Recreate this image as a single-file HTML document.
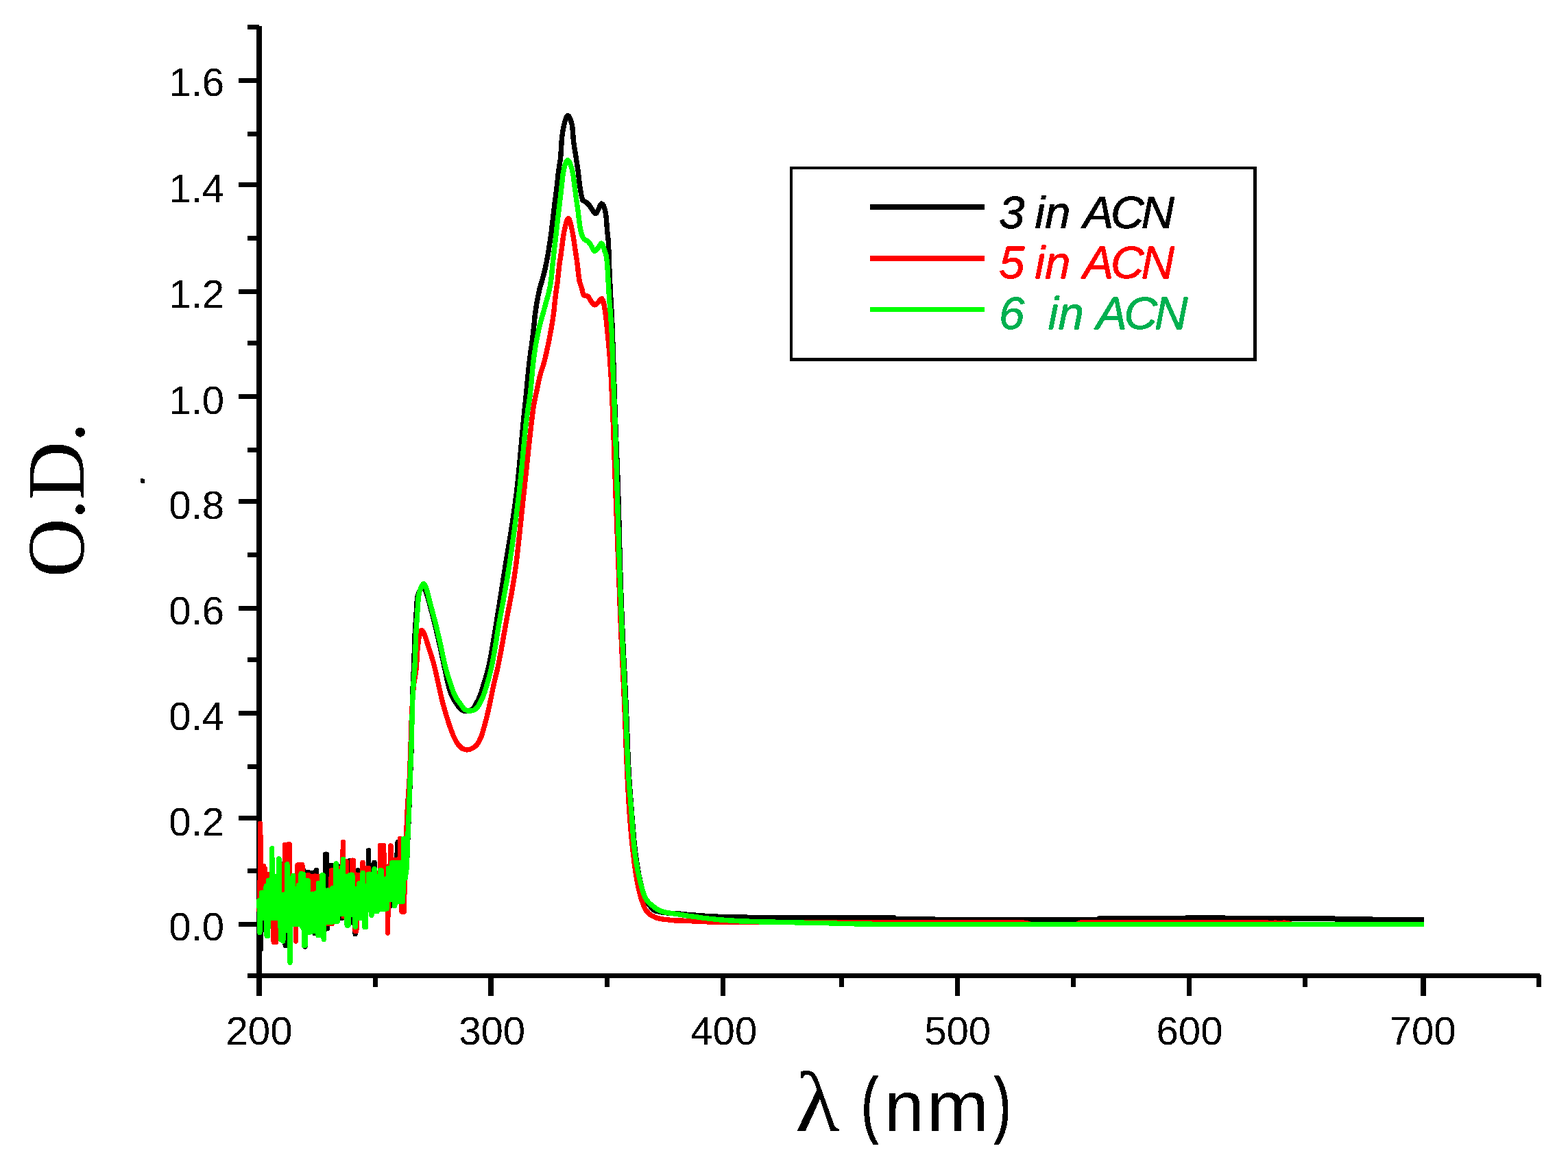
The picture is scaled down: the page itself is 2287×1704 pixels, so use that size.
<!DOCTYPE html>
<html lang="en"><head><meta charset="utf-8"><title>UV-Vis absorption spectra</title>
<style>
html,body{margin:0;padding:0;background:#fff;}
body{width:2287px;height:1704px;overflow:hidden;}
svg{display:block;}
text{white-space:pre;}
.tick{font-family:"Liberation Sans",Arial,Helvetica,sans-serif;font-size:58.2px;fill:#000;}
.leg{font-family:"Liberation Sans",Arial,Helvetica,sans-serif;font-style:italic;font-size:67.2px;}
.xt{font-family:"Liberation Sans",Arial,Helvetica,sans-serif;font-size:107.5px;fill:#000;}
.xn{font-family:"Liberation Sans",Arial,Helvetica,sans-serif;font-size:104.5px;fill:#000;}
.xp{font-family:"Liberation Sans",Arial,Helvetica,sans-serif;font-size:105.5px;fill:#000;stroke:#000;stroke-width:2.2px;stroke-linejoin:round;}
.lam{font-family:"Liberation Serif","DejaVu Serif",serif;font-size:124px;fill:#000;}
.yt{font-family:"Liberation Serif","Times New Roman",serif;font-size:119.5px;fill:#000;}
.curve{fill:none;stroke-width:7.4;stroke-linejoin:round;stroke-linecap:round;}
</style></head><body>
<svg width="2287" height="1704" viewBox="0 0 2287 1704">
<rect x="0" y="0" width="2287" height="1704" fill="#fff"/>
<defs><filter id="bin" filterUnits="userSpaceOnUse" x="0" y="0" width="2287" height="1704" color-interpolation-filters="sRGB"><feComponentTransfer><feFuncA type="discrete" tableValues="0 1"/></feComponentTransfer></filter></defs>
<g id="axes" fill="#000" shape-rendering="crispEdges">
<rect x="374" y="38" width="8" height="1389"/>
<rect x="361" y="36" width="17" height="7"/>
<rect x="361" y="1420" width="1885" height="7"/>
<rect x="2241" y="1422" width="7" height="18"/>
<rect x="348" y="113.5" width="27" height="7"/>
<rect x="348" y="266.0" width="27" height="7"/>
<rect x="348" y="422.0" width="27" height="7"/>
<rect x="348" y="575.0" width="27" height="7"/>
<rect x="348" y="727.5" width="27" height="7"/>
<rect x="348" y="883.5" width="27" height="7"/>
<rect x="348" y="1036.5" width="27" height="7"/>
<rect x="348" y="1190.0" width="27" height="7"/>
<rect x="348" y="1345.0" width="27" height="7"/>
<rect x="361" y="191.5" width="14" height="7"/>
<rect x="361" y="344.0" width="14" height="7"/>
<rect x="361" y="497.0" width="14" height="7"/>
<rect x="361" y="653.0" width="14" height="7"/>
<rect x="361" y="805.5" width="14" height="7"/>
<rect x="361" y="958.5" width="14" height="7"/>
<rect x="361" y="1114.5" width="14" height="7"/>
<rect x="361" y="1267.0" width="14" height="7"/>
<rect x="374.0" y="1420" width="8" height="33"/>
<rect x="712.0" y="1420" width="8" height="33"/>
<rect x="1051.0" y="1420" width="7" height="33"/>
<rect x="1393.0" y="1420" width="7" height="33"/>
<rect x="1731.0" y="1420" width="7" height="33"/>
<rect x="2072.0" y="1420" width="8" height="33"/>
<rect x="543.5" y="1420" width="7" height="20"/>
<rect x="882.0" y="1420" width="7" height="20"/>
<rect x="1224.0" y="1420" width="7" height="20"/>
<rect x="1562.0" y="1420" width="7" height="20"/>
<rect x="1900.0" y="1420" width="7" height="20"/>
</g>
<g id="ylabels" class="tick" text-anchor="end" filter="url(#bin)">
<text x="327.2" y="140.1">1.6</text>
<text x="327.2" y="294.6">1.4</text>
<text x="327.2" y="448.6">1.2</text>
<text x="327.2" y="603.6">1.0</text>
<text x="327.2" y="756.6">0.8</text>
<text x="327.2" y="910.6">0.6</text>
<text x="327.2" y="1064.6">0.4</text>
<text x="327.2" y="1218.6">0.2</text>
<text x="327.2" y="1371.6">0.0</text>
</g>
<g id="xlabels" class="tick" text-anchor="middle" filter="url(#bin)">
<text x="378" y="1523.7">200</text>
<text x="717.7" y="1523.7">300</text>
<text x="1055.8" y="1523.7">400</text>
<text x="1396.7" y="1523.7">500</text>
<text x="1735.0" y="1523.7">600</text>
<text x="2075.2" y="1523.7">700</text>
</g>
<clipPath id="plotclip"><rect x="0" y="0" width="2077" height="1704"/></clipPath>
<g id="curves" clip-path="url(#plotclip)">
<polyline class="curve" filter="url(#bin)" stroke="#000" points="378.0,1323.5 378.8,1350.4 379.7,1323.5 380.5,1384.1 381.4,1312.3 382.2,1329.5 383.1,1312.3 383.9,1329.5 384.8,1312.3 385.6,1329.5 386.5,1312.3 387.3,1329.5 388.2,1302.6 389.0,1355.3 389.9,1302.6 390.7,1355.3 391.6,1294.2 392.4,1329.5 393.3,1294.2 394.1,1329.5 395.0,1294.2 395.8,1329.5 396.7,1247.6 397.5,1329.5 398.4,1288.7 399.2,1329.5 400.1,1288.7 400.9,1329.5 401.8,1288.7 402.6,1329.5 403.5,1288.7 404.3,1329.5 405.2,1288.7 406.0,1329.5 406.9,1262.9 407.7,1329.5 408.6,1262.9 409.4,1360.1 410.3,1260.6 411.1,1360.1 412.0,1260.6 412.8,1360.1 413.7,1315.1 414.5,1362.9 415.4,1315.1 416.2,1379.2 417.1,1315.1 417.9,1379.2 418.8,1270.6 419.6,1379.2 420.4,1298.4 421.3,1379.2 422.1,1298.4 423.0,1379.2 423.8,1298.4 424.7,1337.9 425.5,1298.4 426.4,1337.9 427.2,1287.3 428.1,1337.9 428.9,1306.8 429.8,1337.9 430.6,1306.8 431.5,1337.9 432.3,1306.8 433.2,1337.9 434.0,1306.8 434.9,1337.9 435.7,1306.8 436.6,1337.9 437.4,1306.8 438.3,1337.9 439.1,1301.2 440.0,1341.3 440.8,1301.2 441.7,1341.3 442.5,1268.9 443.4,1369.1 444.2,1285.1 445.1,1380.9 445.9,1285.1 446.8,1349.7 447.6,1285.1 448.5,1349.7 449.3,1272.1 450.2,1349.7 451.0,1273.9 451.9,1349.7 452.7,1273.9 453.6,1349.7 454.4,1273.9 455.3,1349.7 456.1,1273.9 457.0,1349.7 457.8,1273.9 458.7,1361.5 459.5,1273.9 460.4,1354.5 461.2,1269.1 462.1,1354.5 462.9,1298.4 463.7,1354.5 464.6,1298.4 465.4,1354.5 466.3,1298.4 467.1,1354.5 468.0,1298.4 468.8,1354.5 469.7,1286.9 470.5,1354.5 471.4,1286.9 472.2,1360.6 473.1,1286.9 473.9,1354.8 474.8,1246.1 475.6,1354.8 476.5,1246.1 477.3,1354.8 478.2,1309.3 479.0,1346.1 479.9,1309.3 480.7,1346.1 481.6,1309.3 482.4,1346.1 483.3,1262.4 484.1,1346.1 485.0,1270.0 485.8,1334.0 486.7,1270.0 487.5,1334.0 488.4,1270.0 489.2,1334.0 490.1,1270.0 490.9,1334.0 491.8,1270.0 492.6,1334.0 493.5,1264.2 494.3,1334.0 495.2,1264.2 496.0,1334.0 496.9,1281.5 497.7,1339.1 498.6,1281.5 499.4,1339.1 500.3,1263.3 501.1,1323.1 502.0,1288.7 502.8,1323.1 503.7,1288.7 504.5,1323.1 505.4,1288.7 506.2,1340.0 507.0,1288.7 507.9,1340.0 508.7,1288.7 509.6,1340.0 510.4,1255.7 511.3,1324.3 512.1,1255.7 513.0,1345.8 513.8,1286.3 514.7,1324.3 515.5,1306.9 516.4,1324.3 517.2,1306.9 518.1,1362.7 518.9,1306.9 519.8,1329.1 520.6,1306.9 521.5,1329.1 522.3,1269.7 523.2,1329.1 524.0,1283.3 524.9,1329.1 525.7,1283.3 526.6,1329.1 527.4,1283.3 528.3,1329.1 529.1,1283.3 530.0,1329.1 530.8,1303.3 531.7,1342.4 532.5,1303.3 533.4,1342.4 534.2,1303.3 535.1,1317.0 535.9,1303.3 536.8,1317.0 537.6,1240.6 538.5,1317.0 539.3,1286.3 540.2,1317.0 541.0,1286.3 541.9,1325.5 542.7,1286.3 543.6,1319.4 544.4,1286.3 545.3,1319.4 546.1,1258.2 547.0,1319.4 547.8,1288.7 548.6,1319.4 549.5,1288.7 550.3,1319.4 551.2,1288.7 552.0,1319.4 552.9,1288.7 553.7,1315.8 554.6,1279.7 555.4,1322.8 556.3,1279.7 557.1,1315.8 558.0,1292.4 558.8,1315.8 559.7,1292.4 560.5,1315.8 561.4,1292.4 562.2,1315.8 563.1,1292.4 563.9,1315.8 564.8,1292.4 565.6,1302.5 566.5,1292.4 567.3,1302.5 568.2,1292.4 569.0,1302.5 569.9,1276.6 570.7,1321.0 571.6,1268.8 572.4,1302.5 573.3,1268.8 574.1,1311.6 575.0,1268.8 575.8,1311.6 576.7,1268.8 577.5,1304.9 578.4,1246.1 579.2,1304.9 580.1,1228.5 580.9,1304.9 581.8,1268.8 582.6,1304.9 583.5,1268.8 584.3,1304.9 585.2,1268.8 586.0,1304.9 586.9,1268.8 587.7,1304.9 588.6,1233.7 589.4,1258.9 590.2,1281.3 591.1,1281.3 593.2,1266.5 595.0,1220.0 596.7,1180.8 598.4,1134.1 600.1,1090.9 601.8,1009.3 603.5,973.8 605.2,924.4 606.9,897.2 608.6,871.5 610.3,865.7 612.0,862.0 613.7,858.3 615.4,855.6 617.1,855.2 618.8,857.9 620.5,861.9 622.2,866.4 623.9,872.0 625.6,877.7 627.3,883.8 629.0,890.2 630.7,896.9 632.4,903.6 634.1,910.4 635.8,917.3 637.5,924.4 639.2,931.7 640.9,939.1 642.6,946.8 644.3,954.8 646.0,962.9 647.7,970.9 649.4,979.0 651.1,987.3 652.8,995.1 654.5,1001.6 656.2,1007.2 657.9,1012.1 659.6,1016.2 661.3,1019.5 663.0,1022.3 664.7,1024.8 666.4,1027.3 668.1,1029.8 669.8,1032.3 671.5,1034.2 673.2,1035.4 674.9,1036.4 676.6,1037.1 678.3,1037.5 680.0,1037.5 681.7,1037.3 683.4,1037.0 685.1,1036.6 686.8,1035.9 688.5,1034.8 690.2,1033.3 691.9,1031.3 693.6,1028.2 695.3,1025.1 697.0,1021.9 698.7,1018.3 700.4,1014.1 702.1,1009.1 703.8,1003.6 705.5,998.0 707.2,992.6 708.9,987.0 710.6,981.0 712.3,974.4 714.0,966.8 715.7,958.1 717.4,948.5 719.1,938.4 720.8,927.9 722.5,917.3 724.2,906.9 725.9,896.5 727.6,886.0 729.3,875.2 731.0,864.3 732.7,853.4 734.4,842.4 736.1,831.5 737.8,820.9 739.5,810.5 741.2,800.3 742.9,790.0 744.6,779.6 746.3,769.0 748.0,757.9 749.7,746.2 751.4,733.9 753.1,720.7 754.8,706.2 756.5,689.6 758.2,671.5 759.9,652.7 761.6,633.8 763.3,615.6 765.0,598.6 766.7,582.0 768.4,565.1 770.1,547.2 771.8,530.3 773.5,516.5 775.2,504.7 776.9,492.4 778.6,476.8 780.3,459.7 782.0,447.9 783.7,437.9 785.4,428.9 787.1,421.2 788.8,415.1 790.5,409.8 792.2,403.6 793.9,397.0 795.6,389.8 797.3,381.5 799.0,372.2 800.7,362.0 802.4,350.9 804.1,338.8 805.8,324.6 807.5,309.7 809.2,295.7 810.9,283.1 812.6,269.3 814.3,252.0 816.0,240.7 817.7,229.7 819.4,201.8 821.1,189.4 822.8,181.8 824.5,175.2 826.2,170.2 827.9,168.5 829.6,169.6 831.3,172.6 833.0,177.3 834.7,183.8 836.4,204.9 838.1,217.2 839.8,227.5 841.5,238.3 843.2,250.1 844.9,265.5 846.6,277.5 848.3,286.5 850.0,292.4 851.7,293.6 853.4,294.2 855.1,295.2 856.8,296.7 858.5,298.5 860.2,300.5 861.9,303.2 863.6,305.8 865.3,308.1 867.0,310.2 868.7,311.5 870.4,310.5 872.1,306.9 873.8,303.5 875.5,299.5 877.2,297.0 878.9,297.8 880.6,300.9 882.3,305.5 884.0,315.6 885.7,336.8 887.4,352.5 889.1,400.4 890.8,433.6 892.5,462.3 894.2,510.0 895.9,563.2 897.6,614.1 899.3,655.8 901.0,697.5 902.7,754.3 904.4,822.8 906.1,874.0 907.8,916.5 909.5,953.9 911.2,986.6 912.9,1023.4 914.6,1064.4 916.3,1110.8 918.0,1140.3 919.7,1163.1 921.4,1184.5 923.1,1206.3 924.8,1226.1 926.5,1241.7 928.2,1254.4 929.9,1265.5 931.6,1275.1 933.3,1283.1 935.0,1290.3 936.7,1296.9 938.4,1302.7 940.1,1307.7 941.8,1311.5 943.5,1314.6 945.2,1317.4 946.9,1320.0 948.6,1322.4 950.3,1324.5 952.0,1326.2 953.7,1327.6 955.4,1328.6 957.1,1329.2 958.8,1329.6 960.5,1330.0 962.2,1330.4 963.9,1330.7 965.6,1331.0 967.3,1331.2 969.0,1331.4 970.7,1331.6 972.4,1331.7 974.1,1331.9 975.8,1332.0 977.5,1332.1 979.2,1332.3 980.9,1332.4 982.6,1332.5 984.3,1332.6 986.0,1332.8 987.7,1332.9 989.4,1333.0 991.1,1333.2 992.8,1333.3 994.5,1333.5 996.2,1333.6 997.9,1333.8 999.6,1333.9 1001.3,1334.1 1003.0,1334.3 1004.7,1334.4 1006.4,1334.6 1008.1,1334.7 1009.8,1334.9 1011.5,1335.0 1013.2,1335.2 1014.9,1335.3 1016.6,1335.4 1018.3,1335.6 1020.0,1335.7 1021.7,1335.8 1023.4,1336.0 1025.1,1336.1 1026.8,1336.2 1028.5,1336.3 1030.2,1336.4 1031.9,1336.5 1033.6,1336.6 1035.3,1336.7 1037.0,1336.8 1038.7,1336.9 1040.4,1337.0 1042.1,1337.1 1043.8,1337.2 1045.5,1337.2 1047.2,1337.3 1048.9,1337.4 1050.6,1337.5 1052.3,1337.6 1054.0,1337.7 1055.7,1337.7 1057.4,1337.8 1059.1,1337.9 1060.8,1337.9 1062.5,1338.0 1064.2,1338.0 1065.9,1338.1 1067.6,1338.1 1069.3,1338.2 1071.0,1338.2 1072.7,1338.2 1074.4,1338.2 1076.1,1338.2 1077.8,1338.2 1079.5,1338.3 1081.2,1338.3 1082.9,1338.3 1084.6,1338.3 1086.3,1338.3 1088.0,1338.3 1089.7,1338.3 1091.4,1338.4 1093.1,1338.4 1094.8,1338.4 1096.5,1338.4 1098.2,1338.4 1099.9,1338.4 1101.6,1338.4 1103.3,1338.4 1105.0,1338.4 1106.7,1338.5 1108.4,1338.5 1159.6,1338.6 1304.0,1338.5 1306.0,1340.5 1362.0,1340.5 1364.0,1341.7 1600.0,1341.7 1604.0,1339.7 1729.0,1339.7 1731.0,1338.8 1785.0,1338.8 1787.0,1339.7 1945.0,1339.7 1947.0,1340.7 2000.0,1340.7 2002.0,1341.6 2085.0,1341.6"/>
<polyline class="curve" filter="url(#bin)" stroke="#f00" points="378.0,1323.5 378.8,1350.4 379.7,1201.4 380.5,1329.5 381.4,1263.3 382.2,1329.5 383.1,1267.5 383.9,1329.5 384.8,1263.3 385.6,1329.5 386.5,1267.5 387.3,1329.5 388.2,1275.9 389.0,1355.3 389.9,1275.9 390.7,1355.3 391.6,1275.9 392.4,1329.5 393.3,1275.9 394.1,1329.5 395.0,1275.9 395.8,1329.5 396.7,1247.6 397.5,1329.5 398.4,1288.7 399.2,1374.3 400.1,1288.7 400.9,1374.3 401.8,1288.7 402.6,1374.3 403.5,1288.7 404.3,1360.1 405.2,1288.7 406.0,1360.1 406.9,1262.9 407.7,1360.1 408.6,1315.1 409.4,1360.1 410.3,1315.1 411.1,1360.1 412.0,1315.1 412.8,1360.1 413.7,1315.1 414.5,1347.6 415.4,1232.7 416.2,1347.6 417.1,1232.7 417.9,1347.6 418.8,1232.7 419.6,1347.6 420.4,1232.0 421.3,1347.6 422.1,1232.0 423.0,1394.3 423.8,1287.3 424.7,1337.9 425.5,1287.3 426.4,1337.9 427.2,1287.3 428.1,1337.9 428.9,1287.3 429.8,1337.9 430.6,1287.3 431.5,1372.9 432.3,1287.3 433.2,1341.3 434.0,1261.9 434.9,1341.3 435.7,1261.9 436.6,1341.3 437.4,1261.9 438.3,1341.3 439.1,1261.9 440.0,1341.3 440.8,1261.8 441.7,1341.3 442.5,1285.1 443.4,1369.1 444.2,1285.1 445.1,1369.1 445.9,1285.1 446.8,1349.7 447.6,1285.1 448.5,1349.7 449.3,1276.3 450.2,1349.7 451.0,1278.1 451.9,1349.7 452.7,1278.1 453.6,1349.7 454.4,1278.1 455.3,1348.5 456.1,1278.1 457.0,1348.5 457.8,1278.1 458.7,1348.5 459.5,1278.1 460.4,1348.5 461.2,1278.1 462.1,1348.5 462.9,1278.1 463.7,1354.5 464.6,1286.9 465.4,1354.5 466.3,1286.9 467.1,1354.5 468.0,1286.9 468.8,1354.5 469.7,1286.9 470.5,1354.5 471.4,1286.9 472.2,1360.6 473.1,1309.3 473.9,1347.6 474.8,1309.3 475.6,1347.6 476.5,1309.3 477.3,1347.6 478.2,1309.3 479.0,1347.6 479.9,1309.3 480.7,1347.6 481.6,1309.3 482.4,1347.6 483.3,1270.0 484.1,1347.6 485.0,1270.0 485.8,1334.0 486.7,1270.0 487.5,1334.0 488.4,1270.0 489.2,1334.0 490.1,1270.0 490.9,1334.0 491.8,1270.0 492.6,1334.0 493.5,1266.6 494.3,1323.1 495.2,1266.6 496.0,1323.1 496.9,1266.6 497.7,1323.1 498.6,1266.6 499.4,1323.1 500.3,1228.5 501.1,1336.7 502.0,1257.0 502.8,1336.7 503.7,1257.0 504.5,1336.7 505.4,1257.0 506.2,1340.0 507.0,1286.3 507.9,1340.0 508.7,1286.3 509.6,1324.3 510.4,1286.3 511.3,1324.3 512.1,1286.3 513.0,1324.3 513.8,1255.1 514.7,1324.3 515.5,1255.1 516.4,1324.3 517.2,1276.3 518.1,1358.5 518.9,1276.3 519.8,1358.5 520.6,1276.3 521.5,1329.1 522.3,1276.3 523.2,1329.1 524.0,1276.3 524.9,1329.1 525.7,1276.3 526.6,1329.1 527.4,1276.3 528.3,1329.1 529.1,1258.2 530.0,1329.1 530.8,1266.6 531.7,1342.4 532.5,1266.6 533.4,1342.4 534.2,1266.6 535.1,1317.0 535.9,1266.6 536.8,1317.0 537.6,1266.6 538.5,1317.0 539.3,1286.3 540.2,1317.0 541.0,1286.3 541.9,1325.5 542.7,1286.3 543.6,1319.4 544.4,1286.3 545.3,1319.4 546.1,1277.8 547.0,1319.4 547.8,1288.7 548.6,1319.4 549.5,1288.7 550.3,1319.4 551.2,1288.7 552.0,1315.8 552.9,1288.7 553.7,1315.8 554.6,1233.4 555.4,1315.8 556.3,1233.4 557.1,1315.8 558.0,1233.4 558.8,1315.8 559.7,1233.4 560.5,1315.8 561.4,1264.2 562.2,1315.8 563.1,1264.2 563.9,1315.8 564.8,1264.2 565.6,1360.9 566.5,1264.2 567.3,1302.5 568.2,1264.2 569.0,1302.5 569.9,1234.0 570.7,1302.5 571.6,1254.5 572.4,1302.5 573.3,1254.5 574.1,1302.5 575.0,1254.5 575.8,1311.6 576.7,1254.5 577.5,1304.9 578.4,1254.5 579.2,1304.9 580.1,1254.5 580.9,1304.9 581.8,1254.5 582.6,1304.9 583.5,1223.1 584.3,1304.9 585.2,1233.7 586.0,1330.0 586.9,1233.7 587.7,1330.0 588.6,1233.7 589.4,1330.0 590.2,1281.3 591.1,1281.3 592.0,1240.0 593.7,1189.4 595.4,1162.3 597.1,1138.8 598.8,1094.8 600.5,1041.6 602.2,1013.5 603.9,995.8 605.6,985.7 607.3,974.4 609.0,945.9 610.7,932.4 612.4,924.4 614.1,920.0 615.8,919.8 617.5,922.4 619.2,925.9 620.9,930.5 622.6,936.2 624.3,941.7 626.0,946.9 627.7,952.1 629.4,957.5 631.1,963.1 632.8,969.1 634.5,975.7 636.2,983.3 637.9,991.2 639.6,998.7 641.3,1006.4 643.0,1014.0 644.7,1021.3 646.4,1028.0 648.1,1034.1 649.8,1040.0 651.5,1045.6 653.2,1050.9 654.9,1056.0 656.6,1061.0 658.3,1065.8 660.0,1070.3 661.7,1074.4 663.4,1077.9 665.1,1081.2 666.8,1084.1 668.5,1086.5 670.2,1088.4 671.9,1090.2 673.6,1091.6 675.3,1092.5 677.0,1093.1 678.7,1093.6 680.4,1093.9 682.1,1093.8 683.8,1093.5 685.5,1093.0 687.2,1092.4 688.9,1091.6 690.6,1090.6 692.3,1089.3 694.0,1087.9 695.7,1086.1 697.4,1083.7 699.1,1080.7 700.8,1077.2 702.5,1073.0 704.2,1067.6 705.9,1061.6 707.6,1055.2 709.3,1048.7 711.0,1041.7 712.7,1034.4 714.4,1026.7 716.1,1018.6 717.8,1010.1 719.5,1001.8 721.2,994.2 722.9,987.2 724.6,980.1 726.3,972.5 728.0,964.1 729.7,955.3 731.4,946.0 733.1,936.5 734.8,926.9 736.5,917.3 738.2,907.8 739.9,898.6 741.6,889.7 743.3,880.8 745.0,871.9 746.7,862.6 748.4,852.7 750.1,842.0 751.8,830.3 753.5,817.1 755.2,802.6 756.9,787.2 758.6,771.2 760.3,754.9 762.0,738.6 763.7,722.6 765.4,707.1 767.1,691.2 768.8,675.0 770.5,659.0 772.2,643.1 773.9,627.8 775.6,613.3 777.3,599.5 779.0,588.4 780.7,579.9 782.4,572.1 784.1,563.9 785.8,555.8 787.5,548.6 789.2,542.6 790.9,537.3 792.6,531.9 794.3,525.6 796.0,518.7 797.7,511.2 799.4,503.2 801.1,494.7 802.8,485.8 804.5,476.4 806.2,466.1 807.9,454.1 809.6,437.4 811.3,423.5 813.0,412.7 814.7,396.9 816.4,382.0 818.1,371.4 819.8,358.8 821.5,344.7 823.2,336.1 824.9,328.3 826.6,322.3 828.3,318.9 830.0,319.2 831.7,323.7 833.4,331.0 835.1,339.5 836.8,348.9 838.5,361.2 840.2,372.4 841.9,383.5 843.6,399.0 845.3,411.0 847.0,415.9 848.7,421.0 850.4,429.1 852.1,431.1 853.8,431.5 855.5,431.8 857.2,432.2 858.9,433.7 860.6,437.0 862.3,439.8 864.0,442.1 865.7,444.0 867.4,444.9 869.1,444.3 870.8,442.7 872.5,441.0 874.2,439.0 875.9,436.8 877.6,435.6 879.3,438.0 881.0,444.4 882.7,454.2 884.4,468.8 886.1,485.7 887.8,502.8 889.5,523.1 891.2,550.3 892.9,585.1 894.6,624.8 896.3,673.1 898.0,721.6 899.7,766.2 901.4,809.9 903.1,854.0 904.8,899.3 906.5,940.4 908.2,974.1 909.9,1008.7 911.6,1048.2 913.3,1093.2 915.0,1133.3 916.7,1165.8 918.4,1191.1 920.1,1211.9 921.8,1229.6 923.5,1245.2 925.2,1259.4 926.9,1271.8 928.6,1282.3 930.3,1291.2 932.0,1299.1 933.7,1305.9 935.4,1311.6 937.1,1316.7 938.8,1321.2 940.5,1325.0 942.2,1327.9 943.9,1330.1 945.6,1331.9 947.3,1333.4 949.0,1334.7 950.7,1335.7 952.4,1336.6 954.1,1337.5 955.8,1338.3 957.5,1338.9 959.2,1339.5 960.9,1339.9 962.6,1340.2 964.3,1340.5 966.0,1340.8 967.7,1341.1 969.4,1341.3 971.1,1341.5 972.8,1341.7 974.5,1341.9 976.2,1342.1 977.9,1342.3 979.6,1342.4 981.3,1342.5 983.0,1342.7 984.7,1342.8 986.4,1342.9 988.1,1343.0 989.8,1343.0 991.5,1343.1 993.2,1343.2 994.9,1343.3 996.6,1343.3 998.3,1343.4 1000.0,1343.4 1001.7,1343.5 1003.4,1343.5 1005.1,1343.6 1006.8,1343.6 1008.5,1343.7 1010.2,1343.8 1011.9,1343.8 1013.6,1343.9 1015.3,1343.9 1017.0,1344.0 1018.7,1344.1 1020.4,1344.2 1022.1,1344.3 1023.8,1344.3 1025.5,1344.4 1027.2,1344.5 1028.9,1344.6 1030.6,1344.7 1032.3,1344.7 1034.0,1344.8 1035.7,1344.9 1037.4,1344.9 1039.1,1345.0 1040.8,1345.0 1042.5,1345.0 1044.2,1345.0 1045.9,1345.0 1047.6,1345.0 1049.3,1345.0 1051.0,1345.0 1052.7,1345.0 1054.4,1345.0 1056.1,1345.0 1057.8,1345.0 1059.5,1345.0 1061.2,1345.0 1062.9,1345.0 1064.6,1345.0 1066.3,1345.0 1068.0,1345.0 1069.7,1345.0 1071.4,1345.0 1073.1,1344.9 1074.8,1344.9 1076.5,1344.9 1078.2,1344.9 1079.9,1344.9 1081.6,1344.9 1083.3,1344.9 1085.0,1344.9 1086.7,1344.9 1088.4,1344.9 1090.1,1344.9 1091.8,1344.9 1093.5,1344.9 1095.2,1344.8 1096.9,1344.8 1098.6,1344.8 1100.3,1344.8 1102.0,1344.8 1103.7,1344.8 1105.4,1344.8 1107.1,1344.8 1108.8,1344.8 1110.0,1344.8 1130.5,1345.3 1159.6,1345.9 1170.0,1346.0 1200.0,1345.7 1264.0,1345.8 1492.0,1345.8 1498.0,1346.6 1503.0,1348.5 1570.0,1348.5 1576.0,1345.8 1848.0,1345.8 1853.0,1346.8 1860.0,1345.8 1867.0,1346.8 1873.0,1345.8 1879.0,1346.8 1884.0,1348.5 2085.0,1348.5"/>
<polyline class="curve" filter="url(#bin)" stroke="#0f0" points="378.0,1313.5 378.8,1360.4 379.7,1313.5 380.5,1339.5 381.4,1302.3 382.2,1339.5 383.1,1302.3 383.9,1339.5 384.8,1302.3 385.6,1339.5 386.5,1302.3 387.3,1339.5 388.2,1292.6 389.0,1365.3 389.9,1292.6 390.7,1365.3 391.6,1284.2 392.4,1339.5 393.3,1284.2 394.1,1339.5 395.0,1284.2 395.8,1339.5 396.7,1237.6 397.5,1339.5 398.4,1278.7 399.2,1339.5 400.1,1278.7 400.9,1339.5 401.8,1278.7 402.6,1339.5 403.5,1278.7 404.3,1339.5 405.2,1278.7 406.0,1339.5 406.9,1252.9 407.7,1339.5 408.6,1305.1 409.4,1370.1 410.3,1305.1 411.1,1370.1 412.0,1305.1 412.8,1372.9 413.7,1305.1 414.5,1357.6 415.4,1305.1 416.2,1357.6 417.1,1305.1 417.9,1357.6 418.8,1260.6 419.6,1357.6 420.4,1288.4 421.3,1357.6 422.1,1288.4 423.0,1404.3 423.8,1288.4 424.7,1347.9 425.5,1288.4 426.4,1347.9 427.2,1277.3 428.1,1347.9 428.9,1296.8 429.8,1347.9 430.6,1296.8 431.5,1347.9 432.3,1296.8 433.2,1347.9 434.0,1296.8 434.9,1347.9 435.7,1291.2 436.6,1347.9 437.4,1291.2 438.3,1347.9 439.1,1274.5 440.0,1351.3 440.8,1291.2 441.7,1351.3 442.5,1275.1 443.4,1379.1 444.2,1284.8 445.1,1379.1 445.9,1284.8 446.8,1359.7 447.6,1284.8 448.5,1359.7 449.3,1284.8 450.2,1359.7 451.0,1304.2 451.9,1359.7 452.7,1304.2 453.6,1359.7 454.4,1304.2 455.3,1358.5 456.1,1304.2 457.0,1358.5 457.8,1304.2 458.7,1358.5 459.5,1304.2 460.4,1358.5 461.2,1302.9 462.1,1358.5 462.9,1302.9 463.7,1364.5 464.6,1288.4 465.4,1364.5 466.3,1288.4 467.1,1364.5 468.0,1288.4 468.8,1364.5 469.7,1276.9 470.5,1364.5 471.4,1276.9 472.2,1370.6 473.1,1299.3 473.9,1345.2 474.8,1299.3 475.6,1345.2 476.5,1299.3 477.3,1345.2 478.2,1299.3 479.0,1345.2 479.9,1299.3 480.7,1345.2 481.6,1299.3 482.4,1345.2 483.3,1299.3 484.1,1345.2 485.0,1295.7 485.8,1344.0 486.7,1295.7 487.5,1344.0 488.4,1295.7 489.2,1344.0 490.1,1260.0 490.9,1344.0 491.8,1271.5 492.6,1344.0 493.5,1271.5 494.3,1333.1 495.2,1271.5 496.0,1333.1 496.9,1271.5 497.7,1333.1 498.6,1271.5 499.4,1333.1 500.3,1253.3 501.1,1333.1 502.0,1278.7 502.8,1333.1 503.7,1278.7 504.5,1333.1 505.4,1278.7 506.2,1350.0 507.0,1278.7 507.9,1350.0 508.7,1278.7 509.6,1334.3 510.4,1276.3 511.3,1334.3 512.1,1276.3 513.0,1334.3 513.8,1276.3 514.7,1334.3 515.5,1296.9 516.4,1334.3 517.2,1296.9 518.1,1352.4 518.9,1296.9 519.8,1339.1 520.6,1296.9 521.5,1339.1 522.3,1296.9 523.2,1339.1 524.0,1288.4 524.9,1339.1 525.7,1296.9 526.6,1339.1 527.4,1288.4 528.3,1339.1 529.1,1273.3 530.0,1339.1 530.8,1293.3 531.7,1352.4 532.5,1293.3 533.4,1352.4 534.2,1293.3 535.1,1327.0 535.9,1293.3 536.8,1327.0 537.6,1275.1 538.5,1327.0 539.3,1275.1 540.2,1327.0 541.0,1276.3 541.9,1335.5 542.7,1276.3 543.6,1329.4 544.4,1276.3 545.3,1329.4 546.1,1267.8 547.0,1329.4 547.8,1278.7 548.6,1329.4 549.5,1278.7 550.3,1329.4 551.2,1278.7 552.0,1325.8 552.9,1278.7 553.7,1325.8 554.6,1269.7 555.4,1325.8 556.3,1269.7 557.1,1325.8 558.0,1282.4 558.8,1325.8 559.7,1282.4 560.5,1325.8 561.4,1282.4 562.2,1325.8 563.1,1282.4 563.9,1325.8 564.8,1282.4 565.6,1312.5 566.5,1266.6 567.3,1312.5 568.2,1266.6 569.0,1312.5 569.9,1266.6 570.7,1312.5 571.6,1258.8 572.4,1312.5 573.3,1258.8 574.1,1312.5 575.0,1258.8 575.8,1321.6 576.7,1258.8 577.5,1314.9 578.4,1258.8 579.2,1314.9 580.1,1258.8 580.9,1314.9 581.8,1258.8 582.6,1314.9 583.5,1258.8 584.3,1314.9 585.2,1258.8 586.0,1314.9 586.9,1258.8 587.7,1314.9 588.6,1223.7 589.4,1268.9 590.2,1281.3 591.1,1281.3 593.2,1266.5 594.9,1220.0 596.6,1179.7 598.3,1132.7 600.0,1087.6 601.7,1023.4 603.4,990.2 605.1,970.1 606.8,923.9 608.5,897.2 610.2,871.6 611.9,863.3 613.6,858.5 615.3,854.5 617.0,852.0 618.7,852.0 620.4,855.0 622.1,859.3 623.8,865.2 625.5,872.5 627.2,879.1 628.9,885.4 630.6,891.7 632.3,898.1 634.0,904.6 635.7,911.4 637.4,918.4 639.1,925.5 640.8,932.8 642.5,940.2 644.2,948.1 645.9,956.4 647.6,964.4 649.3,971.7 651.0,978.1 652.7,983.9 654.4,989.4 656.1,994.6 657.8,999.7 659.5,1004.8 661.2,1009.5 662.9,1013.6 664.6,1017.0 666.3,1019.8 668.0,1022.2 669.7,1024.4 671.4,1026.7 673.1,1029.1 674.8,1031.8 676.5,1033.9 678.2,1035.2 679.9,1036.1 681.6,1036.8 683.3,1037.2 685.0,1037.2 686.7,1037.0 688.4,1036.7 690.1,1036.3 691.8,1035.7 693.5,1034.6 695.2,1033.1 696.9,1031.1 698.6,1028.1 700.3,1025.0 702.0,1021.8 703.7,1018.2 705.4,1014.0 707.1,1009.0 708.8,1003.5 710.5,997.8 712.2,991.8 713.9,985.5 715.6,978.6 717.3,971.1 719.0,962.6 720.7,953.1 722.4,943.0 724.1,932.5 725.8,922.0 727.5,911.8 729.2,902.1 730.9,892.8 732.6,883.6 734.3,874.5 736.0,865.2 737.7,855.7 739.4,845.8 741.1,835.4 742.8,824.5 744.5,813.3 746.2,801.7 747.9,789.9 749.6,777.6 751.3,765.0 753.0,751.9 754.7,738.5 756.4,724.6 758.1,710.1 759.8,693.8 761.5,676.3 763.2,658.3 764.9,640.6 766.6,623.9 768.3,609.2 770.0,597.1 771.7,586.2 773.4,574.0 775.1,557.4 776.8,537.7 778.5,522.6 780.2,510.8 781.9,500.5 783.6,491.4 785.3,483.1 787.0,475.8 788.7,469.3 790.4,463.3 792.1,457.3 793.8,451.0 795.5,444.5 797.2,438.3 798.9,432.6 800.6,425.7 802.3,417.5 804.0,406.6 805.7,389.1 807.4,373.4 809.1,358.5 810.8,343.6 812.5,328.6 814.2,313.8 815.9,299.8 817.6,285.6 819.3,270.7 821.0,254.8 822.7,245.7 824.4,239.7 826.1,235.5 827.8,233.7 829.5,234.7 831.2,237.8 832.9,242.5 834.6,248.2 836.3,257.6 838.0,270.7 839.7,284.1 841.4,296.5 843.1,307.8 844.8,323.3 846.5,334.4 848.2,341.3 849.9,346.0 851.6,348.5 853.3,349.8 855.0,350.6 856.7,351.5 858.4,353.0 860.1,355.0 861.8,357.4 863.5,360.7 865.2,364.6 866.9,366.5 868.6,365.7 870.3,363.9 872.0,362.0 873.7,359.6 875.4,356.9 877.1,355.0 878.8,356.0 880.5,361.6 882.2,367.1 883.9,371.8 885.6,383.6 887.3,414.1 889.0,441.0 890.7,460.9 892.4,488.4 894.1,540.5 895.8,581.5 897.5,627.7 899.2,683.2 900.9,739.0 902.6,795.1 904.3,846.5 906.0,892.5 907.7,933.7 909.4,968.4 911.1,1002.2 912.8,1041.0 914.5,1085.9 916.2,1124.6 917.9,1148.3 919.6,1167.9 921.3,1189.3 923.0,1213.0 924.7,1233.5 926.4,1247.3 928.1,1258.6 929.8,1268.2 931.5,1276.5 933.2,1283.8 934.9,1290.6 936.6,1297.0 938.3,1302.6 940.0,1307.3 941.7,1310.7 943.4,1313.2 945.1,1315.4 946.8,1317.2 948.5,1318.8 950.2,1320.2 951.9,1321.6 953.6,1322.9 955.3,1324.2 957.0,1325.5 958.7,1326.6 960.4,1327.6 962.1,1328.5 963.8,1329.2 965.5,1329.8 967.2,1330.2 968.9,1330.6 970.6,1331.0 972.3,1331.3 974.0,1331.6 975.7,1331.9 977.4,1332.1 979.1,1332.4 980.8,1332.6 982.5,1332.9 984.2,1333.1 985.9,1333.4 987.6,1333.7 989.3,1333.9 991.0,1334.2 992.7,1334.5 994.4,1334.7 996.1,1335.0 997.8,1335.3 999.5,1335.5 1001.2,1335.8 1002.9,1336.0 1004.6,1336.3 1006.3,1336.5 1008.0,1336.7 1009.7,1337.0 1011.4,1337.2 1013.1,1337.4 1014.8,1337.7 1016.5,1337.9 1018.2,1338.1 1019.9,1338.4 1021.6,1338.6 1023.3,1338.8 1025.0,1339.1 1026.7,1339.3 1028.4,1339.5 1030.1,1339.7 1031.8,1339.9 1033.5,1340.2 1035.2,1340.4 1036.9,1340.5 1038.6,1340.7 1040.3,1340.9 1042.0,1341.1 1043.7,1341.2 1045.4,1341.4 1047.1,1341.5 1048.8,1341.7 1050.5,1341.8 1052.2,1341.9 1053.9,1342.1 1055.6,1342.2 1057.3,1342.4 1059.0,1342.5 1060.7,1342.6 1062.4,1342.7 1064.1,1342.8 1065.8,1343.0 1067.5,1343.1 1069.2,1343.2 1070.9,1343.3 1072.6,1343.4 1074.3,1343.5 1076.0,1343.6 1077.7,1343.7 1079.4,1343.8 1081.1,1343.8 1082.8,1343.9 1084.5,1344.0 1086.2,1344.1 1087.9,1344.1 1089.6,1344.2 1091.3,1344.2 1093.0,1344.3 1094.7,1344.4 1096.4,1344.4 1098.1,1344.4 1099.8,1344.5 1101.5,1344.5 1103.2,1344.6 1104.9,1344.6 1106.6,1344.7 1108.3,1344.7 1110.0,1344.8 1130.5,1345.3 1159.6,1345.9 1200.0,1346.6 1264.0,1348.3 1400.0,1348.5 2085.0,1348.5"/>
</g>
<g id="legend">
<g fill="#000" shape-rendering="crispEdges">
<rect x="1152" y="243" width="681" height="4"/>
<rect x="1152" y="522" width="681" height="5"/>
<rect x="1152" y="243" width="4" height="284"/>
<rect x="1828" y="243" width="5" height="284"/>
</g>
<rect x="1269" y="298" width="167" height="8" fill="#000" shape-rendering="crispEdges"/>
<rect x="1269" y="373" width="167" height="8" fill="#f00" shape-rendering="crispEdges"/>
<rect x="1269" y="448" width="167" height="7" fill="#0f0" shape-rendering="crispEdges"/>
<text class="leg" y="332.8" fill="#000" stroke="#000" stroke-width="0.9" stroke-linejoin="round" filter="url(#bin)" xml:space="preserve"><tspan x="1457.0">3</tspan><tspan x="1490.5"> in</tspan><tspan x="1567.5" letter-spacing="-4.2"> ACN</tspan></text>
<text class="leg" y="405.8" fill="#f00" stroke="#f00" stroke-width="0.9" stroke-linejoin="round" filter="url(#bin)" xml:space="preserve"><tspan x="1457.0">5</tspan><tspan x="1490.5"> in</tspan><tspan x="1567.5" letter-spacing="-4.2"> ACN</tspan></text>
<text class="leg" y="479.8" fill="#00b050" stroke="#00b050" stroke-width="0.9" stroke-linejoin="round" filter="url(#bin)" xml:space="preserve"><tspan x="1457.0">6 </tspan><tspan x="1510.0"> in</tspan><tspan x="1587.0" letter-spacing="-4.2"> ACN</tspan></text>
</g>
<g id="ytitle" filter="url(#bin)"><text class="yt" transform="translate(122,842.6) rotate(-90)" letter-spacing="-1.8" xml:space="preserve">O.D.</text></g>
<text id="xtitle" filter="url(#bin)" y="1650.3" xml:space="preserve"><tspan class="lam" x="1159.8" textLength="65.3" lengthAdjust="spacingAndGlyphs">λ</tspan><tspan class="xt"> </tspan><tspan class="xp" x="1256.4" dy="-3.2" textLength="24.0" lengthAdjust="spacingAndGlyphs">(</tspan><tspan class="xn" x="1290" dy="3.2">n</tspan><tspan class="xn" x="1351.6" textLength="90.9" lengthAdjust="spacingAndGlyphs">m</tspan><tspan class="xp" x="1450.2" dy="-3.2" textLength="24.0" lengthAdjust="spacingAndGlyphs">)</tspan></text>
<polygon points="205,698.6 206.5,698 211,699 211,705 206,705 205,702.5" fill="#000" shape-rendering="crispEdges"/>
</svg></body></html>
